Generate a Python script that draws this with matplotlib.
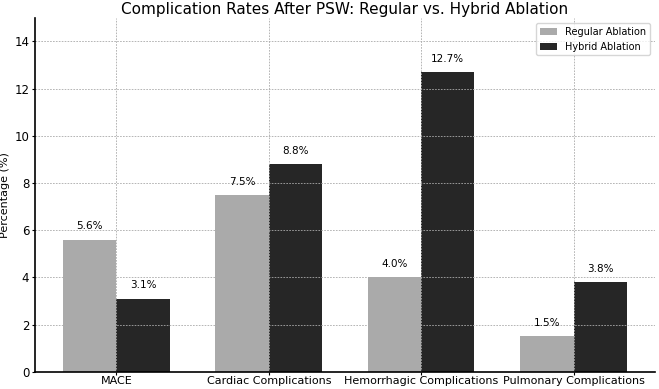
import numpy as np
import matplotlib.pyplot as plt

# Data
categories = ["MACE", "Cardiac Complications", "Hemorrhagic Complications", "Pulmonary Complications"]
regular = [5.6, 7.5, 4.0, 1.5]
hybrid = [3.1, 8.8, 12.7, 3.8]

x = np.arange(len(categories))
width = 0.35

fig = plt.figure(figsize=(6.59, 3.89), dpi=100)
ax = fig.add_axes([0.053, 0.044, 0.941, 0.910])

bars1 = ax.bar(x - width / 2, regular, width, label="Regular Ablation", color="#aaaaaa")
bars2 = ax.bar(x + width / 2, hybrid, width, label="Hybrid Ablation", color="#262626")

# Value labels
for bars in (bars1, bars2):
    for b in bars:
        h = b.get_height()
        ax.text(b.get_x() + b.get_width() / 2, h + 0.35, f"{h}%",
                ha="center", va="bottom", fontsize=7.5)

ax.set_title("Complication Rates After PSW: Regular vs. Hybrid Ablation", fontsize=11, pad=3)
ax.set_ylabel("Percentage (%)", fontsize=8, labelpad=3)
ax.set_xticks(x)
ax.set_xticklabels(categories, fontsize=8)
ax.set_ylim(0, 15)
ax.set_yticks([0, 2, 4, 6, 8, 10, 12, 14])
ax.tick_params(axis="y", labelsize=8.5, length=2, pad=2)
ax.tick_params(axis="x", length=2, pad=1)
ax.spines["top"].set_visible(False)
ax.spines["right"].set_visible(False)
ax.spines["left"].set_linewidth(1.2)
ax.spines["bottom"].set_linewidth(1.2)
ax.grid(True, linestyle=(0, (2, 1.5)), linewidth=0.6, color="#aaaaaa")
ax.legend(fontsize=7, loc="upper right", handlelength=1.8)

fig.savefig("out.png", dpi=100)
